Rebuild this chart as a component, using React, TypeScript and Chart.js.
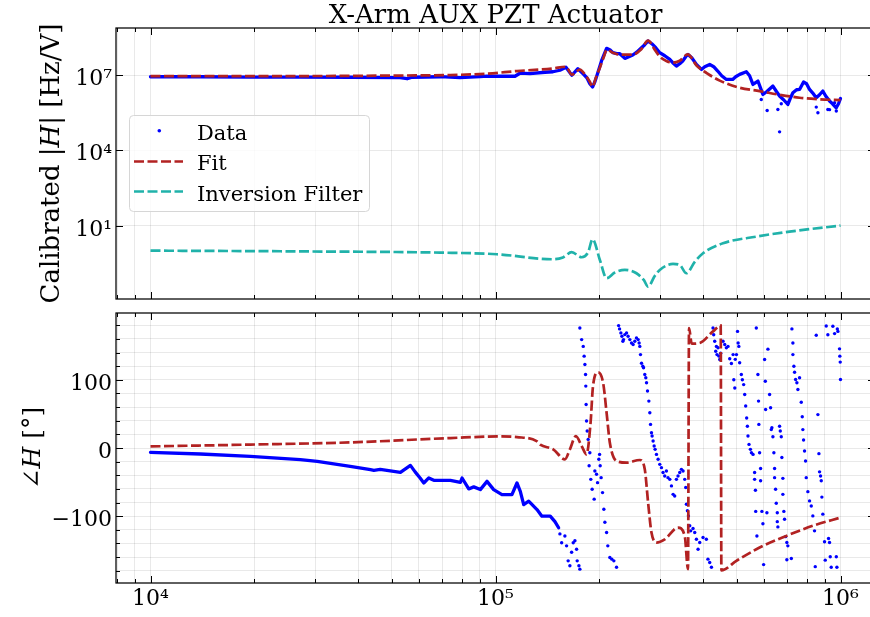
import React, { useEffect, useRef } from "react";
import { Chart, registerables } from "chart.js";

Chart.register(...registerables);

const FONT = "'DejaVu Serif', serif";
const BLUE = "#0000ff";
const RED = "#b22222";
const TEAL = "#20b2aa";
const GRID = "rgba(0,0,0,0.085)";

const TITLE = "X-Arm AUX PZT Actuator";
const LEGEND_LABELS = ["Data", "Fit", "Inversion Filter"];

const FREQ_MIN = 10 ** 3.9;
const FREQ_MAX = 10 ** 6.1;
const MAG_MIN = 10 ** -1.906;
const MAG_MAX = 10 ** 8.87;
const PHASE_MIN = -198;
const PHASE_MAX = 198;

const xMajorTicks = [1e4, 1e5, 1e6];
const xMinorTicks = [8e3, 9e3, 2e4, 3e4, 4e4, 5e4, 6e4, 7e4, 8e4, 9e4, 2e5, 3e5, 4e5, 5e5, 6e5, 7e5, 8e5, 9e5];
const xTickLabels = ["10⁴", "10⁵", "10⁶"];
const magMajorTicks = [1e1, 1e4, 1e7];
const magTickLabels = ["10¹", "10⁴", "10⁷"];
const phaseMajorTicks = [-100, 0, 100];
const phaseMinorTicks = [-180, -160, -140, -120, -80, -60, -40, -20, 20, 40, 60, 80, 120, 140, 160, 180];
const phaseTickLabels = ["−100", "0", "100"];

// ---------- Magnitude (Hz/V), frequency in kHz ----------
const magDataFreqKHz = [10, 13.95, 19.47, 27.18, 37.93, 52.91, 55.45, 57.33, 69.1, 78.93, 90.19, 94.49, 106.5, 113.9, 117.7, 125.9, 139.1, 146.7, 153.7, 160.0, 166.5, 173.3, 179.2, 184.0, 187.7, 191.1, 194.1, 196.7, 203.0, 209.9, 214.5, 218.9, 224.7, 229.3, 237.1, 243.5, 250.0, 256.7, 265.0, 270.8, 276.9, 283.8, 291.4, 299.3, 309.4, 320.0, 326.4, 334.5, 342.0, 348.9, 356.0, 361.4, 370.5, 382.3, 395.3, 404.1, 417.7, 429.0, 440.6, 452.5, 466.9, 486.9, 496.8, 510.2, 533.5, 545.2, 557.4, 576.3, 595.8, 610.7, 637.0, 652.9, 665.9, 683.9, 703.9, 716.7, 727.7, 745.8, 760.9, 781.5, 797.3, 813.4, 829.9, 850.6, 869.5, 888.8, 904.9, 929.4, 948.2, 971.9, 986.8, 1000];
const magData = [8.56e6, 8.56e6, 8.32e6, 8.32e6, 8.16e6, 7.95e6, 7.12e6, 8.16e6, 8.56e6, 7.82e6, 8.71e6, 9.12e6, 8.96e6, 8.96e6, 1.18e7, 1.13e7, 1.29e7, 1.35e7, 1.55e7, 2.05e7, 9.8e6, 1.78e7, 1.13e7, 7.8e6, 4.51e6, 3.33e6, 5.41e6, 9.38e6, 3.71e7, 1.15e8, 1.02e8, 7.73e7, 7.05e7, 7.05e7, 4.58e7, 5.35e7, 6.25e7, 8.09e7, 1.22e8, 1.61e8, 2.26e8, 1.76e8, 1.22e8, 7.73e7, 5.86e7, 4.18e7, 3.09e7, 2.28e7, 2.82e7, 3.61e7, 5.35e7, 6.61e7, 4.88e7, 2.64e7, 1.67e7, 2.14e7, 2.64e7, 2.14e7, 1.44e7, 9.38e6, 6.68e6, 6.68e6, 8.56e6, 1.06e7, 1.35e7, 9.38e6, 4.23e6, 5.77e6, 1.69e6, 2.16e6, 3.65e6, 2.16e6, 1.46e6, 1.04e6, 6.76e5, 1.25e6, 1.97e6, 2.6e6, 2.67e6, 5.26e6, 4.51e6, 2.67e6, 1.97e6, 1.25e6, 1.64e6, 2.31e6, 1.5e6, 9.2e5, 7.2e5, 4.99e5, 7.2e5, 1.17e6];
const magOutlierFreqKHz = [589.4, 612.9, 658.4, 665.9, 673.5, 850.6, 860.0, 919.1, 929.4, 961.3, 972.4, 972.4];
const magOutlier = [1.07e6, 3.9e5, 4.27e5, 5.5e4, 7.2e5, 5.3e5, 3.15e5, 4.27e5, 4.2e5, 7.9e5, 3.69e5, 5.3e5];

const magFitFreqKHz = [10, 27.18, 52.91, 73.85, 94.49, 115.4, 146.7, 160.0, 166.5, 175.6, 182.7, 187.7, 191.1, 195.4, 200.7, 206.1, 210.2, 218.9, 229.3, 250.0, 263.8, 276.9, 289.4, 299.3, 313.7, 326.4, 342.0, 360.7, 383.1, 409.5, 446.6, 510.2, 582.8, 665.9, 760.9, 869.5, 1000];
const magFit = [9.12e6, 9.12e6, 9.55e6, 1.0e7, 1.13e7, 1.44e7, 1.83e7, 2.14e7, 1.03e7, 1.63e7, 9.38e6, 5.41e6, 3.42e6, 7.82e6, 1.95e7, 5.35e7, 1.02e8, 7.73e7, 6.43e7, 6.43e7, 1.02e8, 2.32e8, 1.02e8, 5.35e7, 3.54e7, 3.09e7, 3.71e7, 6.61e7, 2.34e7, 1.2e7, 6.0e6, 3.12e6, 2.3e6, 1.64e6, 1.25e6, 1.09e6, 1.0e6];

const invFreqKHz = [10, 27.18, 69.1, 101.0, 146.7, 156.8, 166.2, 177.7, 185.6, 191.1, 200.7, 209.9, 221.8, 237.1, 256.2, 269.0, 276.9, 289.4, 299.3, 327.0, 342.0, 357.6, 378.0, 399.5, 456.3, 570.2, 711.9, 1000];
const invFilter = [1.04, 0.97, 0.867, 0.748, 0.473, 0.558, 0.9, 0.569, 0.9, 2.96, 0.444, 0.083, 0.14, 0.178, 0.131, 0.071, 0.0384, 0.102, 0.178, 0.307, 0.281, 0.131, 0.37, 0.82, 2.05, 3.76, 5.94, 10.3];

// ---------- Phase (deg) ----------
const phaseDataFreqKHz = [10, 13.95, 19.47, 27.18, 30.43, 37.93, 43.41, 44.41, 46.32, 53.02, 56.67, 58.48, 60.46, 61.97, 64.07, 66.24, 74.0, 79.1, 80.0, 83.64, 86.48, 90.36, 94.49, 98.8, 104.4, 111.6, 115.4, 118.0, 120.7, 124.8, 131.9, 136.3, 144.1, 148.7, 152.4];
const phaseData = [-6.4, -8.8, -12.3, -17, -19.6, -26.9, -31.8, -32.8, -31.5, -35.7, -25.5, -35, -44, -51.3, -43.9, -47.4, -47.4, -50.3, -44, -60, -57, -61, -48.9, -61, -68.4, -68.4, -51.3, -63.5, -83, -78, -90.3, -100, -100, -108, -117];

const phaseScatterFreqKHz = [
  153.7, 155.5, 158.9, 160.7, 162.4, 164.3, 166.2, 168.0, 169.9, 171.8, 172.5, 174.5, 175.6,
  175.6, 177.7, 179.6, 180.7, 181.6, 182.4, 182.7, 183.1, 183.6, 184.4, 185.6, 186.8, 187.7, 188.9, 190.6, 193.2, 194.1, 196.3, 197.6, 199.3, 200.3, 201.1, 202.4, 204.3, 206.1, 207.5, 209.9, 211.6, 214.5, 217.4, 220.3, 224.3,
  227.4, 228.9, 230.9, 232.5, 234.0, 235.0, 237.1, 239.8, 242.3, 245.1, 247.9, 250.5, 253.4, 256.2, 259.1, 260.8, 262.0, 263.2, 265.0, 267.3, 268.6, 270.8, 272.7, 274.0, 275.8, 278.3, 280.1, 281.4, 283.2, 284.4, 286.3, 288.3, 290.2, 292.8, 296.0, 299.3, 302.7, 305.9, 309.4, 312.9, 316.2, 320.0, 323.6, 327.2, 330.7, 334.5, 338.1, 342.0, 345.8, 349.7, 353.6, 356.0, 357.6, 360.0, 362.4, 365.6, 368.0, 373.7, 378.0, 382.3, 386.5, 390.8, 399.5, 408.5, 412.9, 417.7, 422.6,
  427.0, 429.0, 431.9, 434.8, 436.8, 438.5, 441.5, 444.5, 446.6, 449.5, 456.5, 461.7, 466.9, 472.0, 477.4, 482.8, 488.3, 490.6, 493.9, 495.5, 499.4, 502.9, 505.0, 507.4, 510.2, 515.9, 519.4, 524.0, 527.6, 531.1, 534.6, 537.2, 539.3, 543.0, 548.1, 551.9, 557.9,
  563.7, 563.7, 566.8, 567.8, 570.1, 572.4, 576.2, 578.7, 579.9, 582.8, 586.7, 586.7, 591.8, 595.8, 598.6, 602.6, 605.4, 606.7, 611.9, 616.1, 623.0, 627.2, 630.1, 632.6, 636.9, 641.1, 644.1, 644.1, 648.4, 651.4, 655.8, 655.8, 658.4, 665.9, 669.0, 673.5, 676.2, 680.7, 680.7, 685.2, 688.4, 693.0, 699.0, 703.7, 699.0, 720.2, 723.0, 727.8, 727.8, 732.6, 736.0, 741.0, 747.5, 752.5, 760.9, 769.6, 774.7, 777.8, 781.5, 786.7, 792.0, 795.6, 804.3, 813.4, 822.7, 831.4, 840.9, 844.9, 850.6, 860.0, 865.8, 869.5, 875.4, 879.5, 883.1, 888.8, 898.9, 903.2, 909.1, 919.1, 923.3, 929.4, 933.8, 940.0, 950.3, 961.3, 972.4, 976.3, 979.0, 982.9, 993.5, 995.5, 998.2, 1000
];
const phaseScatter = [
  -126, -139, -129, -143.5, -165.5, -172.8, -153, -139, -136, -148.5, -165.5, -172.8, -177.7,
  176, 159, 149, 134.7, 122.4, 107.8, 90.8, 63.8, 39.5, 24.9, 12.6, -26, -7, -46, -60.6, -75, -33.7, -38.6, -50.8, -16.6, -9.4, -26, -43.5, -65.4, -89.8, -109, -124, -143.5, -160.6, -163, -165.5, -175,
  179.5, 174.7, 168.8, 164, 156.6, 159, 166.3, 168.8, 164, 159, 154, 151.7, 156.6, 161.5, 159, 154, 149, 137, 124.4, 120, 117.6, 107.8, 103, 95.6, 83.5, 68.8, 51.7, 34.6, 22.4, 17.6, 10.2, 2.9, -2, -9.4, -16.6, -24, -28.8, -36, -41, -33.7, -43.5, -46, -55.6, -68, -70.3, -46, -41, -36, -31.3, -33.7, -46, -58, -82.6, -92, -99.6, -114, -121.5, -118, -124, -133.8, -148.5, -138.7, -131.3, -133.8, -163, -168, -175,
  176, 166, 156.6, 142, 149, 137, 147, 134.7, 129.7, 139, 156.6, 151.7, 147, 149, 131, 124, 137, 100, 88, 130, 137, 171, 154, 149, 125, 107.8, 100, 93, 78.5, 61.5, 44, 32, 17.6, 5.3, -2, -6.9, -9.4,
  -36, -46, -62, -93, 176, -129, 107.8, 68.8, 34.6, -7, -30, -48, -93, -111, -171, 129.7, 98, 56.5, -95, 145, 78.5, 59, 27, 29.7, 16.5, -7, -30, -43.5, -60.6, -81, -95, -108, -115.7, 32, 25, 16.5, -14, -44.5, -68, -93, -104.5, -130, -138.7, -143.5, -164, -162, 174.7, 154, 137, 120, 111, 100.4, 95.6, 85.8, 103, 67, 45.8, 27, 11.7, -4.4, -19, -43.5, -64, -77.6, -85, -99.6, -121.5, -174, 165.4, 49, -8.3, -35, -41, -48, -72, -97, -137.6, -164.5, 179, 166, -132.8, -138.7, -159.6, -175, 178.6, 167.8, -159.6, -175, 174.7, 171, 145.4, 134.7, 126, 100.4
];

const phaseFitFreqKHz = [10, 19.47, 37.99, 74.0, 103.3, 115.4, 131.6, 134.8, 147.0, 158.9, 164.3, 171.0, 177.7, 183.6, 188.6, 191.7, 198.4, 205.1, 209.9, 214.5, 224.3, 239.8, 262.0, 270.8, 276.9, 283.2, 292.8, 309.4, 338.1, 353.6, 361.4, 363.9, 370.5, 390.8, 427.0, 449.5, 451.6, 499.1, 582.8, 696.3, 831.4, 1000];
const phaseFit = [2.3, 5, 8.2, 14.6, 17, 16, 10, 4.8, -2, -16.6, -2, 17.5, 3, -9.3, 37, 90.7, 111, 95.6, 51.7, 7.8, -19, -21.5, -17.6, -31, -80, -124, -138.7, -134, -116.7, -129, -177.7, 176, 153, 154, 171, 179.5, -179.5, -165.5, -146, -129, -114, -102];

type Pt = { x: number; y: number };
const pairs = (fk: number[], v: number[]): Pt[] => fk.map((f, i) => ({ x: f * 1000, y: v[i] }));

function drawRich(ctx: CanvasRenderingContext2D, parts: { t: string; it?: boolean }[], x: number, y: number, size: number, rotated: boolean) {
  ctx.save();
  ctx.translate(x, y);
  if (rotated) ctx.rotate(-Math.PI / 2);
  ctx.textBaseline = "alphabetic";
  ctx.textAlign = "left";
  ctx.fillStyle = "#000";
  const fonts = parts.map((p) => `${p.it ? "italic " : ""}${size}px ${FONT}`);
  const widths = parts.map((p, i) => {
    ctx.font = fonts[i];
    return ctx.measureText(p.t).width;
  });
  let cx = -widths.reduce((a, b) => a + b, 0) / 2;
  parts.forEach((p, i) => {
    ctx.font = fonts[i];
    ctx.fillText(p.t, cx, 0);
    cx += widths[i];
  });
  ctx.restore();
}

const framePlugin = (id: string, xMaj: number[], xMin: number[], yMaj: number[], yMin: number[]) => ({
  id,
  afterDraw(chart: any) {
    const { ctx, chartArea: a } = chart;
    const xs = chart.scales.x;
    const ys = chart.scales.y;
    ctx.save();
    ctx.strokeStyle = "#000";
    ctx.lineWidth = 1;
    ctx.beginPath();
    const vx = (v: number, len: number) => {
      const p = Math.round(xs.getPixelForValue(v)) + 0.5;
      if (p < a.left || p > a.right) return;
      ctx.moveTo(p, a.top);
      ctx.lineTo(p, a.top + len);
      ctx.moveTo(p, a.bottom);
      ctx.lineTo(p, a.bottom - len);
    };
    const hy = (v: number, len: number) => {
      const p = Math.round(ys.getPixelForValue(v)) + 0.5;
      if (p < a.top || p > a.bottom) return;
      ctx.moveTo(a.left, p);
      ctx.lineTo(a.left + len, p);
      ctx.moveTo(a.right, p);
      ctx.lineTo(a.right - len, p);
    };
    xMaj.forEach((v) => vx(v, 7));
    xMin.forEach((v) => vx(v, 4));
    yMaj.forEach((v) => hy(v, 7));
    yMin.forEach((v) => hy(v, 4));
    ctx.stroke();
    ctx.lineWidth = 1.25;
    ctx.strokeRect(a.left, a.top, a.right - a.left, a.bottom - a.top);
    ctx.restore();
  },
});

const topDecor = {
  id: "topDecor",
  afterDraw(chart: any) {
    const ctx: CanvasRenderingContext2D = chart.ctx;
    const a = chart.chartArea;
    drawRich(ctx, [{ t: TITLE }], (a.left + a.right) / 2, 23, 26, false);
    drawRich(ctx, [{ t: "Calibrated |" }, { t: "H", it: true }, { t: "| [Hz/V]" }], 59, (a.top + a.bottom) / 2, 26, true);
    ctx.save();
    const lx = 129.5, ly = 115.5, lw = 240, lh = 96, r = 4;
    ctx.beginPath();
    ctx.moveTo(lx + r, ly);
    ctx.lineTo(lx + lw - r, ly);
    ctx.arcTo(lx + lw, ly, lx + lw, ly + r, r);
    ctx.lineTo(lx + lw, ly + lh - r);
    ctx.arcTo(lx + lw, ly + lh, lx + lw - r, ly + lh, r);
    ctx.lineTo(lx + r, ly + lh);
    ctx.arcTo(lx, ly + lh, lx, ly + lh - r, r);
    ctx.lineTo(lx, ly + r);
    ctx.arcTo(lx, ly, lx + r, ly, r);
    ctx.closePath();
    ctx.fillStyle = "rgba(255,255,255,0.8)";
    ctx.fill();
    ctx.strokeStyle = "#d6d6d6";
    ctx.lineWidth = 1;
    ctx.stroke();

    ctx.fillStyle = BLUE;
    ctx.beginPath();
    ctx.arc(159.3, 130.7, 1.8, 0, Math.PI * 2);
    ctx.fill();

    ctx.lineWidth = 2.7;
    ctx.setLineDash([10, 3.5]);
    ctx.strokeStyle = RED;
    ctx.beginPath();
    ctx.moveTo(134, 161.5);
    ctx.lineTo(183, 161.5);
    ctx.stroke();
    ctx.strokeStyle = TEAL;
    ctx.beginPath();
    ctx.moveTo(134, 191.5);
    ctx.lineTo(183, 191.5);
    ctx.stroke();
    ctx.setLineDash([]);

    ctx.fillStyle = "#000";
    ctx.font = `21px ${FONT}`;
    ctx.textBaseline = "alphabetic";
    ctx.textAlign = "left";
    ctx.fillText(LEGEND_LABELS[0], 197, 139.5);
    ctx.fillText(LEGEND_LABELS[1], 197, 170.2);
    ctx.fillText(LEGEND_LABELS[2], 197, 200.8);
    ctx.restore();
  },
};

const bottomDecor = {
  id: "bottomDecor",
  afterDraw(chart: any) {
    const ctx: CanvasRenderingContext2D = chart.ctx;
    const a = chart.chartArea;
    drawRich(ctx, [{ t: "∠" }, { t: "H", it: true }, { t: " [°]" }], 39.5, (a.top + a.bottom) / 2, 25, true);
  },
};

const tickFont = { family: FONT, size: 22 };

const zeroPad = (s: any) => {
  s.paddingLeft = 0;
  s.paddingRight = 0;
  s.paddingTop = 0;
  s.paddingBottom = 0;
};

function xScale(showLabels: boolean, height: number) {
  return {
    type: "logarithmic",
    min: FREQ_MIN,
    max: FREQ_MAX,
    bounds: "data",
    afterBuildTicks: (s: any) => {
      s.ticks = [...xMinorTicks, ...xMajorTicks].sort((p, q) => p - q).map((v) => ({ value: v }));
    },
    afterFit: (s: any) => {
      s.height = height;
      zeroPad(s);
    },
    ticks: {
      display: showLabels,
      autoSkip: false,
      maxRotation: 0,
      minRotation: 0,
      padding: 3,
      color: "#000",
      font: tickFont,
      callback: (v: number) => {
        const i = xMajorTicks.indexOf(v);
        return i >= 0 ? xTickLabels[i] : "";
      },
    },
    grid: { color: GRID, lineWidth: 1, drawTicks: false },
    border: { display: false },
  };
}

export default function App() {
  const topRef = useRef<HTMLCanvasElement>(null);
  const botRef = useRef<HTMLCanvasElement>(null);

  useEffect(() => {
    const common = {
      animation: false,
      responsive: false,
      devicePixelRatio: 1,
      events: [],
    };
    const top = new Chart(topRef.current as HTMLCanvasElement, {
      type: "scatter",
      data: {
        datasets: [
          {
            label: LEGEND_LABELS[1],
            data: pairs(magFitFreqKHz, magFit),
            showLine: true,
            borderColor: RED,
            borderWidth: 2.7,
            borderDash: [10, 3.5],
            pointRadius: 0,
            cubicInterpolationMode: "monotone",
          },
          {
            label: LEGEND_LABELS[2],
            data: pairs(invFreqKHz, invFilter),
            showLine: true,
            borderColor: TEAL,
            borderWidth: 2.7,
            borderDash: [10, 3.5],
            pointRadius: 0,
            cubicInterpolationMode: "monotone",
          },
          {
            label: LEGEND_LABELS[0],
            data: pairs(magDataFreqKHz, magData),
            showLine: true,
            borderColor: BLUE,
            borderWidth: 3.3,
            borderCapStyle: "round",
            borderJoinStyle: "round",
            pointRadius: 0,
          },
          {
            label: LEGEND_LABELS[0] + " (scatter)",
            data: pairs(magOutlierFreqKHz, magOutlier),
            showLine: false,
            backgroundColor: BLUE,
            borderWidth: 0,
            pointRadius: 1.7,
          },
        ],
      },
      options: {
        ...common,
        layout: { padding: { top: 28, left: 0, right: 15, bottom: 6 } },
        plugins: { legend: { display: false }, tooltip: { enabled: false }, title: { display: false } },
        scales: {
          x: xScale(false, 0),
          y: {
            type: "logarithmic",
            min: MAG_MIN,
            max: MAG_MAX,
            bounds: "data",
            afterBuildTicks: (s: any) => {
              s.ticks = magMajorTicks.map((v) => ({ value: v }));
            },
            afterFit: (s: any) => {
              s.width = 116;
              zeroPad(s);
            },
            ticks: {
              autoSkip: false,
              padding: 4,
              labelOffset: 4,
              color: "#000",
              font: tickFont,
              callback: (v: number) => {
                const i = magMajorTicks.indexOf(v);
                return i >= 0 ? magTickLabels[i] : "";
              },
            },
            grid: { color: GRID, lineWidth: 1, drawTicks: false },
            border: { display: false },
          },
        },
      },
      plugins: [framePlugin("frameTop", xMajorTicks, xMinorTicks, magMajorTicks, []), topDecor],
    } as any);

    const bot = new Chart(botRef.current as HTMLCanvasElement, {
      type: "scatter",
      data: {
        datasets: [
          {
            label: LEGEND_LABELS[1],
            data: pairs(phaseFitFreqKHz, phaseFit),
            showLine: true,
            borderColor: RED,
            borderWidth: 2.7,
            borderDash: [10, 3.5],
            pointRadius: 0,
            cubicInterpolationMode: "monotone",
          },
          {
            label: LEGEND_LABELS[0],
            data: pairs(phaseDataFreqKHz, phaseData),
            showLine: true,
            borderColor: BLUE,
            borderWidth: 3.3,
            borderCapStyle: "round",
            borderJoinStyle: "round",
            pointRadius: 0,
          },
          {
            label: LEGEND_LABELS[0] + " (scatter)",
            data: pairs(phaseScatterFreqKHz, phaseScatter),
            showLine: false,
            backgroundColor: BLUE,
            borderWidth: 0,
            pointRadius: 1.7,
          },
        ],
      },
      options: {
        ...common,
        layout: { padding: { top: 8, left: 0, right: 15, bottom: 0 } },
        plugins: { legend: { display: false }, tooltip: { enabled: false }, title: { display: false } },
        scales: {
          x: xScale(true, 34),
          y: {
            type: "linear",
            min: PHASE_MIN,
            max: PHASE_MAX,
            bounds: "data",
            afterBuildTicks: (s: any) => {
              s.ticks = [...phaseMinorTicks, ...phaseMajorTicks].sort((p, q) => p - q).map((v) => ({ value: v }));
            },
            afterFit: (s: any) => {
              s.width = 116;
              zeroPad(s);
            },
            ticks: {
              autoSkip: false,
              padding: 4,
              labelOffset: 4,
              color: "#000",
              font: tickFont,
              callback: (v: number) => {
                const i = phaseMajorTicks.indexOf(v);
                return i >= 0 ? phaseTickLabels[i] : "";
              },
            },
            grid: { color: GRID, lineWidth: 1, drawTicks: false },
            border: { display: false },
          },
        },
      },
      plugins: [framePlugin("frameBot", xMajorTicks, xMinorTicks, phaseMajorTicks, phaseMinorTicks), bottomDecor],
    } as any);

    return () => {
      top.destroy();
      bot.destroy();
    };
  }, []);

  return (
    <div style={{ position: "fixed", left: 0, top: 0, width: 870, height: 617, overflow: "hidden", background: "#fff" }}>
      <canvas ref={topRef} width={890} height={305} style={{ position: "absolute", left: 0, top: 0 }} />
      <canvas ref={botRef} width={890} height={312} style={{ position: "absolute", left: 0, top: 305 }} />
    </div>
  );
}
